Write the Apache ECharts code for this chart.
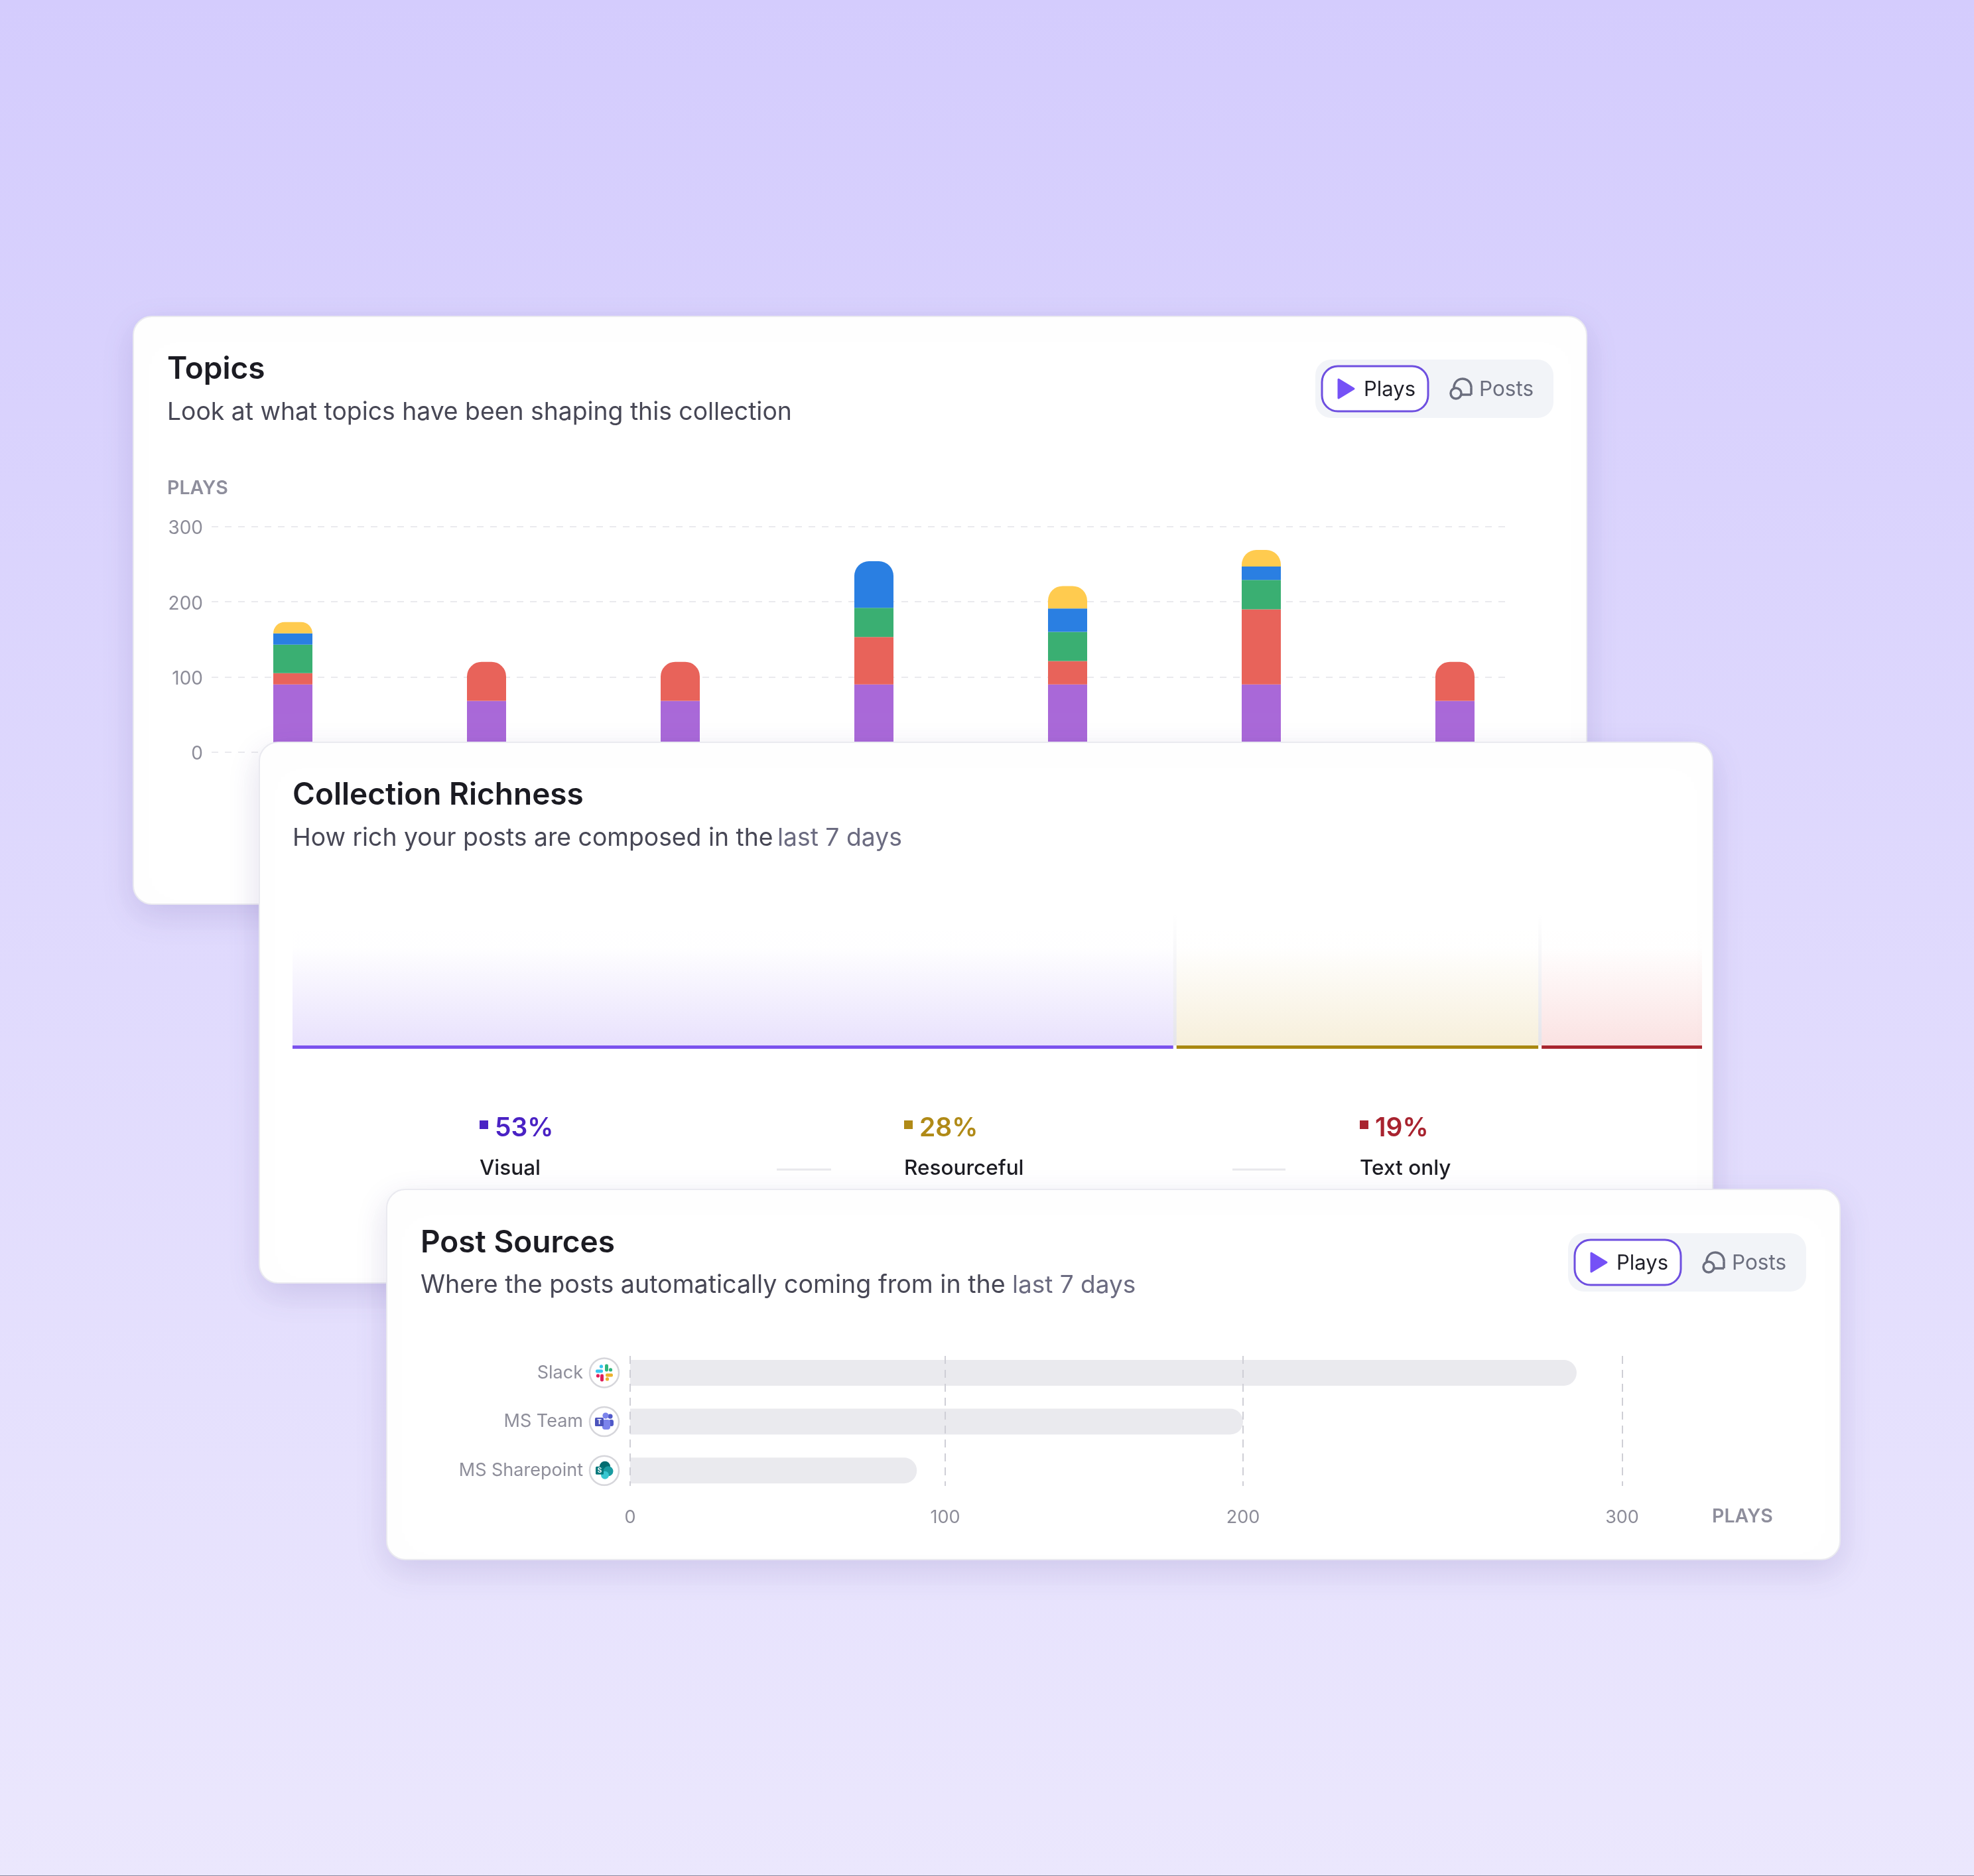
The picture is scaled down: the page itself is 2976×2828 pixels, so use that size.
<!DOCTYPE html>
<html><head><meta charset="utf-8">
<style>html,body{margin:0;padding:0;background:#e0dbfc}#c{width:2976px;height:2828px}</style>
<script src="https://cdn.jsdelivr.net/npm/echarts@6/dist/echarts.min.js"></script>
</head><body><div id="c"></div>
<script>
// ---- data ----
const topicDays = ['Day 1','Day 2','Day 3','Day 4','Day 5','Day 6','Day 7'];
const topicPurple = [90,68,68,90,90,90,68];
const topicRed    = [15,52,52,63,31,100,52];
const topicGreen  = [38,null,null,39,39,39,null];
const topicBlue   = [15,null,null,62,31,18,null];
const topicYellow = [15,null,null,null,30,22,null];
const topicTicks  = [0,100,200,300];

const richnessNames  = ['Visual','Resourceful','Text only'];
const richnessShares = ['53%','28%','19%'];
const richnessBarWidths = [62.6,25.9,11.5];

const sourceNames  = ['Slack','MS Team','MS Sharepoint'];
const sourceValues = [288,200,91];
const sourceTicks  = [0,100,200,300];
// the reference's axis is not evenly spaced: where each tick sits, as a share of the axis
const sourceTickShares = [0,31.76,61.79,100];

// ---- style ----
const FONT = 'Inter';
const C = {purple:'#A968D8',red:'#E8635A',green:'#3AAF72',blue:'#2A7FE2',yellow:'#FFCB4F'};
const richSolid = ['#7B52EE','#A98812','#A8262F'];
const richText  = ['#4A22C4','#B08A17','#A8232F'];
const richFade  = ['120,80,240,','205,160,40,','225,60,60,'];
const richAlpha = [0.17,0.17,0.15];
const grad = (x0,y0,x1,y1,a,b)=>new echarts.graphic.LinearGradient(x0,y0,x1,y1,[{offset:0,color:a},{offset:1,color:b}]);
const fade = k=>new echarts.graphic.LinearGradient(0,0,0,1,[
  {offset:0,color:'rgba('+richFade[k]+'0)'},{offset:0.25,color:'rgba('+richFade[k]+'0.005)'},{offset:1,color:'rgba('+richFade[k]+richAlpha[k]+')'}]);

const gfx = [];
function txt(s,x,y,font,fill,z,align){gfx.push({type:'text',z,style:{text:s,x,y,font:font+' '+FONT+', sans-serif',fill,textAlign:align||'left',textVerticalAlign:'middle'}});}
function card(x0,y0,x1,y1,z){gfx.push({type:'rect',z,shape:{x:x0,y:y0,width:x1-x0,height:y1-y0,r:28},
  style:{fill:'#fff',stroke:'#EAEAF0',lineWidth:2,shadowBlur:50,shadowOffsetY:16,shadowColor:'rgba(70,50,140,0.15)'}});}
function toggle(dx,dy,z){
  gfx.push({type:'rect',z,shape:{x:1983+dx,y:542+dy,width:359,height:88,r:24},style:{fill:'#F2F4F8'}});
  gfx.push({type:'rect',z,shape:{x:1993+dx,y:552+dy,width:160,height:68,r:24},style:{fill:'#fff',stroke:'#6E4FE0',lineWidth:3}});
  gfx.push({type:'polygon',z,shape:{points:[[2018+dx,572+dy],[2041+dx,586+dy],[2018+dx,600+dy]]},style:{fill:'#7551F6',stroke:'#7551F6',lineWidth:3,lineJoin:'round'}});
  txt('Plays',2056+dx,588+dy,'400 31px','#1F1F28',z);
  gfx.push({type:'arc',z,shape:{cx:2205+dx,cy:584+dy,r:13,startAngle:Math.PI*0.92,endAngle:Math.PI*0.02},style:{fill:null,stroke:'#6B6E7E',lineWidth:3.5}});
  gfx.push({type:'line',z,shape:{x1:2218+dx,y1:585+dy,x2:2218+dx,y2:595+dy},style:{stroke:'#6B6E7E',lineWidth:3.5}});
  gfx.push({type:'line',z,shape:{x1:2218+dx,y1:595+dy,x2:2204+dx,y2:595+dy},style:{stroke:'#6B6E7E',lineWidth:3.5}});
  gfx.push({type:'circle',z,shape:{cx:2195+dx,cy:593+dy,r:8},style:{fill:'#F2F4F8',stroke:'#6B6E7E',lineWidth:3.5}});
  txt('Posts',2230+dx,588+dy,'400 31.5px','#6B6E7E',z);
}

// background
gfx.push({type:'rect',z:1,shape:{x:0,y:0,width:2976,height:2828},style:{fill:grad(0,0,0,1,'#D4CCFD','#EBE7FD')}});
gfx.push({type:'rect',z:1,shape:{x:0,y:2827,width:2976,height:1},style:{fill:'#8E8A9E'}});

// card 1
card(201,477,2392,1363,2);
txt('Topics',252,557,'600 46px','#1B1B22',5);
txt('Look at what topics have been shaping this collection',252,622,'400 37.3px','#474755',5);
txt('PLAYS',252,736,'600 28.5px','#8E8E9C',5);
toggle(0,0,5);

// card 2
card(391,1119,2582,1934,10);
txt('Collection Richness',441,1199,'600 46px','#1B1B22',15);
txt('How rich your posts are composed in the ',441,1264,'400 37.3px','#474755',15);
txt('last 7 days',1172,1264,'400 37.3px','#6B6B80',15);
const legendX = [723,1363,2050];
richnessNames.forEach((n,i)=>{
  gfx.push({type:'rect',z:15,shape:{x:legendX[i],y:1689,width:13,height:13},style:{fill:richText[i]}});
  txt(richnessShares[i],legendX[i]+23,1701,'600 39px',richText[i],15);
  txt(n,legendX[i],1762,'500 31.5px','#1B1B22',15);
});
[[1171,1253],[1858,1938]].forEach(d=>gfx.push({type:'line',z:15,shape:{x1:d[0],y1:1763,x2:d[1],y2:1763},style:{stroke:'#E8E8EC',lineWidth:3}}));

// card 3
card(583,1793,2774,2351,20);
txt('Post Sources',634,1874,'600 46px','#1B1B22',25);
txt('Where the posts automatically coming from in the ',634,1938,'400 37.6px','#474755',25);
txt('last 7 days',1526,1938,'400 37px','#6B6B80',25);
toggle(381,1317,25);
txt('PLAYS',2581,2286,'600 28.5px','#8E8E9C',25);

// ---- series helpers ----
const topicSets = [topicPurple,topicRed,topicGreen,topicBlue,topicYellow];
const topicCols = [C.purple,C.red,C.green,C.blue,C.yellow];
function topicData(k){
  return topicSets[k].map((v,i)=>{
    let top=-1; topicSets.forEach((s,j)=>{if(s[i]!=null)top=j;});
    return top===k?{value:v,itemStyle:{borderRadius:[22,22,0,0]}}:v;
  });
}
const boundaries = [richnessBarWidths[0],richnessBarWidths[0]+richnessBarWidths[1]];
// piecewise scale between the labelled ticks of the Post Sources axis
function sourceScale(v){
  for(let i=1;i<sourceTicks.length;i++){
    if(v<=sourceTicks[i]){
      const f=(v-sourceTicks[i-1])/(sourceTicks[i]-sourceTicks[i-1]);
      return sourceTickShares[i-1]+f*(sourceTickShares[i]-sourceTickShares[i-1]);
    }
  }
  return 100;
}

function iconShapes(i,x,y){
  const r=(a,b,w,h,fill,rad)=>({type:'rect',shape:{x:x+a,y:y+b,width:w,height:h,r:rad==null?2:rad},style:{fill}});
  const c=(a,b,rr,fill)=>({type:'circle',shape:{cx:x+a,cy:y+b,r:rr},style:{fill}});
  const t=(s,a,b,sz)=>({type:'text',style:{text:s,x:x+a,y:y+b,fill:'#fff',font:'700 '+sz+'px '+FONT,textAlign:'center',textVerticalAlign:'middle'}});
  if(i===0) return [
    r(-13,-5,11,5,'#36C5F0'),c(-4.5,-9.5,2.6,'#36C5F0'),
    r(1,-13,5,11,'#2EB67D'),c(9.5,-4.5,2.6,'#2EB67D'),
    r(2,1,11,5,'#ECB22E'),c(4.5,9.5,2.6,'#ECB22E'),
    r(-6,2,5,11,'#E01E5A'),c(-9.5,4.5,2.6,'#E01E5A')];
  if(i===1) return [
    c(9,-8,3.6,'#5059C9'),r(7,-3,7,10,'#5059C9',3),
    c(2,-9,4.6,'#7B83EB'),r(-3,-3,12,15,'#7B83EB',4),
    r(-14,-6,13,13,'#4B53BC',1.5),t('T',-7.5,0.5,10)];
  return [
    c(1,-6,8,'#036C70'),c(6,1,7.5,'#1A9BA1'),c(1,7,6,'#37C6D0'),
    r(-13,-6,12,12,'#03787C',1.5),t('S',-7,0,10)];
}

const dash = (col,w,d)=>({show:true,lineStyle:{color:col,width:w,type:d}});
const hiddenAxis = o=>Object.assign({show:false,axisLine:{show:false},axisTick:{show:false},axisLabel:{show:false},splitLine:{show:false}},o);

const option = {
  animation:false,
  grid:[
    {left:319,width:1951,top:794,height:339.5},
    {left:295.5,width:2044,top:794,height:339.5},
    {left:441,width:2125,top:1378,height:198},
    {left:441,width:2125,top:1576,height:5},
    {left:950,width:1495.5,top:2044,height:196},
    {left:950,width:1495.5,top:2032.6,height:221}
  ],
  xAxis:[
    hiddenAxis({gridIndex:0,type:'category',data:topicDays,z:3}),
    hiddenAxis({gridIndex:1,type:'category',data:topicDays}),
    hiddenAxis({gridIndex:2,type:'value',min:0,max:100}),
    hiddenAxis({gridIndex:3,type:'value',min:0,max:100}),
    {gridIndex:4,type:'value',min:0,max:100,z:23,axisLine:{show:false},
      axisTick:{show:false,customValues:sourceTickShares},
      axisLabel:{margin:34,color:'#8C8C98',fontSize:27,fontFamily:FONT,hideOverlap:false,
        customValues:sourceTickShares,
        formatter:v=>String(sourceTicks[sourceTickShares.indexOf(v)])},
      splitLine:dash('#CFCFD6',2,[12,9])},
    hiddenAxis({gridIndex:5,type:'value',min:0,max:100})
  ],
  yAxis:[
    {gridIndex:0,type:'value',min:0,max:300,interval:100,z:3,axisLine:{show:false},axisTick:{show:false},
      axisLabel:{margin:13,color:'#8C8C98',fontFamily:FONT,formatter:v=>'{v|'+v+'}',
        rich:{v:{color:'#8C8C98',fontSize:28,fontFamily:FONT,padding:[6,0,0,0]}}},
      splitLine:dash('#EAEAEE',2,[10,10])},
    hiddenAxis({gridIndex:1,type:'value',min:0,max:300}),
    hiddenAxis({gridIndex:2,type:'category',data:['Composition']}),
    hiddenAxis({gridIndex:3,type:'category',data:['Composition']}),
    hiddenAxis({gridIndex:4,type:'category',data:sourceNames,inverse:true}),
    {gridIndex:5,type:'category',data:sourceNames,inverse:true,z:23,axisLine:{show:false},axisTick:{show:false},
      axisLabel:{margin:71,color:'#8E8E9A',fontSize:27,fontFamily:FONT},splitLine:{show:false}}
  ],
  graphic:{elements:gfx},
  series:[
    ...topicSets.map((s,k)=>({type:'bar',name:'Topic '+(k+1),stack:'topics',xAxisIndex:1,yAxisIndex:1,z:4,barWidth:59,
      itemStyle:{color:topicCols[k]},data:topicData(k)})),
    ...richnessBarWidths.map((v,k)=>({type:'bar',name:richnessNames[k],stack:'rich',xAxisIndex:2,yAxisIndex:2,z:12,barWidth:'100%',
      itemStyle:{color:fade(k)},data:[v]})),
    ...richnessBarWidths.map((v,k)=>({type:'bar',name:richnessNames[k]+' line',stack:'richLine',xAxisIndex:3,yAxisIndex:3,z:12,barWidth:'100%',
      itemStyle:{color:richSolid[k]},data:[v]})),
    {type:'custom',name:'Separators',xAxisIndex:2,yAxisIndex:2,z:13,data:boundaries.map(v=>[v,0]),
      renderItem:(p,api)=>{
        const pt=api.coord([api.value(0),0]);
        const s=p.coordSys;
        return {type:'group',children:[
          {type:'rect',shape:{x:pt[0]-2.5,y:s.y,width:5,height:s.height},style:{fill:grad(0,0,0,1,'#FFFFFF','#E4E4EA')}},
          {type:'rect',shape:{x:pt[0]-2.5,y:s.y+s.height,width:5,height:6},style:{fill:'#FFFFFF'}}
        ]};
      }},
    {type:'bar',name:'Post sources',xAxisIndex:5,yAxisIndex:5,z:22,barWidth:39,
      itemStyle:{color:'#EAEAEE',borderRadius:[0,20,20,0]},data:sourceValues.map(sourceScale)},
    {type:'custom',name:'Source icons',xAxisIndex:5,yAxisIndex:5,z:24,data:sourceNames.map((n,i)=>[0,i]),
      renderItem:(p,api)=>{
        const pt=api.coord([0,api.value(1)]);
        const x=pt[0]-39,y=pt[1];
        return {type:'group',children:[
          {type:'circle',shape:{cx:x,cy:y,r:22},style:{fill:'#fff',stroke:'#D6D6DB',lineWidth:2.5}},
          ...iconShapes(p.dataIndex,x,y)]};
      }}
  ]
};
const chart = echarts.init(document.getElementById('c'),null,{width:2976,height:2828});
chart.setOption(option);
</script></body></html>
